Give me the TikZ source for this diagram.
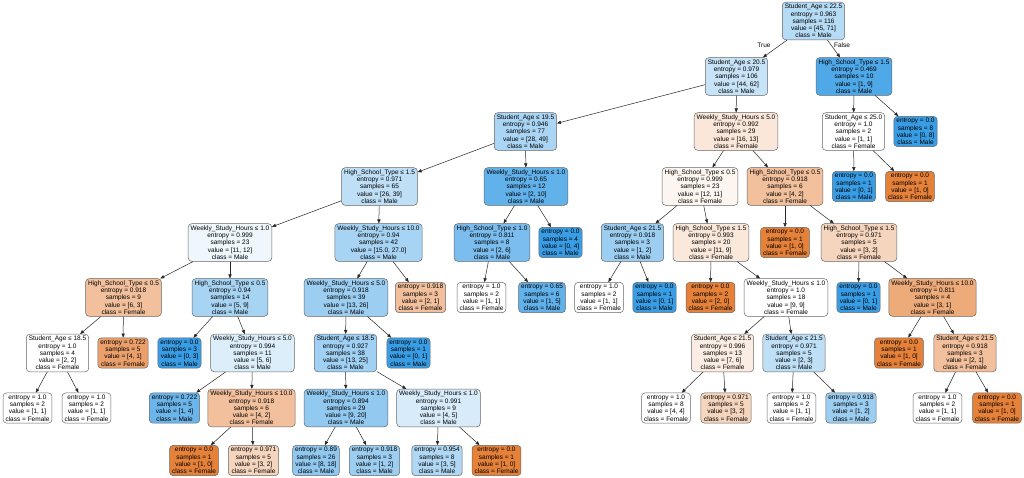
\documentclass[tikz,border=0pt]{standalone}
\usepackage{fontspec}
\newfontfamily\treefont{Liberation Sans}
\usetikzlibrary{arrows.meta}
\definecolor{cF}{HTML}{E58139}
\definecolor{cM}{HTML}{399DE5}
\newcommand\dsp[5]{#1\\entropy = #2\\samples = #3\\value = #4\\class = #5}
\newcommand\dlf[4]{entropy = #1\\samples = #2\\value = #3\\class = #4}
\tikzset{
  tn/.style={draw=black!60, line width=0.5pt, rounded corners=3.5pt, align=center,
    font=\treefont\fontsize{6.5}{7.2}\selectfont, inner xsep=2.5pt, inner ysep=2pt},
  mb/.style={tn, fill=cM!#1!white},
  fo/.style={tn, fill=cF!#1!white},
  wt/.style={tn, fill=white},
  ed/.style={-{Triangle[length=4pt,width=3.2pt]}, line width=0.5pt, black!85},
  lbl/.style={font=\treefont\fontsize{6.5}{7.2}\selectfont, inner sep=0pt}
}
\begin{document}
\begin{tikzpicture}[x=1pt,y=-1pt]
\useasboundingbox[fill=white] (0,0) rectangle (1024,478);
\node[mb=37] (n0) at (813.5,21) {\dsp{Student\_Age ≤ 22.5}{0.963}{116}{[45, 71]}{Male}};
\node[mb=29] (n1) at (736.5,76.5) {\dsp{Student\_Age ≤ 20.5}{0.979}{106}{[44, 62]}{Male}};
\node[mb=89] (n2) at (854,76.5) {\dsp{High\_School\_Type ≤ 1.5}{0.469}{10}{[1, 9]}{Male}};
\node[mb=43] (n3) at (525.5,131.5) {\dsp{Student\_Age ≤ 19.5}{0.946}{77}{[28, 49]}{Male}};
\node[fo=19] (n4) at (736,131.5) {\dsp{Weekly\_Study\_Hours ≤ 5.0}{0.992}{29}{[16, 13]}{Female}};
\node[wt] (n5) at (853.5,131.5) {\dsp{Student\_Age ≤ 25.0}{1.0}{2}{[1, 1]}{Female}};
\node[mb=100] (n6) at (915.5,131.5) {\dlf{0.0}{8}{[0, 8]}{Male}};
\node[mb=33] (n7) at (379.5,186.5) {\dsp{High\_School\_Type ≤ 1.5}{0.971}{65}{[26, 39]}{Male}};
\node[mb=80] (n8) at (526,186.5) {\dsp{Weekly\_Study\_Hours ≤ 1.0}{0.65}{12}{[2, 10]}{Male}};
\node[fo=8] (n9) at (700,186.5) {\dsp{High\_School\_Type ≤ 0.5}{0.999}{23}{[12, 11]}{Female}};
\node[fo=50] (n10) at (785,186.5) {\dsp{High\_School\_Type ≤ 0.5}{0.918}{6}{[4, 2]}{Female}};
\node[mb=100] (n11) at (854,186.5) {\dlf{0.0}{1}{[0, 1]}{Male}};
\node[fo=100] (n12) at (910,186.5) {\dlf{0.0}{1}{[1, 0]}{Female}};
\node[mb=8] (n13) at (230,242.5) {\dsp{Weekly\_Study\_Hours ≤ 1.0}{0.999}{23}{[11, 12]}{Male}};
\node[mb=44] (n14) at (378.5,242.5) {\dsp{Weekly\_Study\_Hours ≤ 10.0}{0.94}{42}{[15.0, 27.0]}{Male}};
\node[mb=67] (n15) at (492,242.5) {\dsp{High\_School\_Type ≤ 1.0}{0.811}{8}{[2, 6]}{Male}};
\node[mb=100] (n16) at (560.5,242.5) {\dlf{0.0}{4}{[0, 4]}{Male}};
\node[mb=50] (n17) at (632.5,242.5) {\dsp{Student\_Age ≤ 21.5}{0.918}{3}{[1, 2]}{Male}};
\node[fo=18] (n18) at (711,242.5) {\dsp{High\_School\_Type ≤ 1.5}{0.993}{20}{[11, 9]}{Female}};
\node[fo=100] (n19) at (785,242.5) {\dlf{0.0}{1}{[1, 0]}{Female}};
\node[fo=33] (n20) at (859,242.5) {\dsp{High\_School\_Type ≤ 1.5}{0.971}{5}{[3, 2]}{Female}};
\node[fo=50] (n21) at (123.5,297.5) {\dsp{High\_School\_Type ≤ 0.5}{0.918}{9}{[6, 3]}{Female}};
\node[mb=44] (n22) at (230,297.5) {\dsp{High\_School\_Type ≤ 0.5}{0.94}{14}{[5, 9]}{Male}};
\node[mb=50] (n23) at (346,297.5) {\dsp{Weekly\_Study\_Hours ≤ 5.0}{0.918}{39}{[13, 26]}{Male}};
\node[fo=50] (n24) at (420.5,297.5) {\dlf{0.918}{3}{[2, 1]}{Female}};
\node[wt] (n25) at (481.5,297.5) {\dlf{1.0}{2}{[1, 1]}{Female}};
\node[mb=80] (n26) at (542,297.5) {\dlf{0.65}{6}{[1, 5]}{Male}};
\node[wt] (n27) at (599,297.5) {\dlf{1.0}{2}{[1, 1]}{Female}};
\node[mb=100] (n28) at (654.5,297.5) {\dlf{0.0}{1}{[0, 1]}{Male}};
\node[fo=100] (n29) at (710.5,297.5) {\dlf{0.0}{2}{[2, 0]}{Female}};
\node[wt] (n30) at (786,297.5) {\dsp{Weekly\_Study\_Hours ≤ 1.0}{1.0}{18}{[9, 9]}{Female}};
\node[mb=100] (n31) at (858.5,297.5) {\dlf{0.0}{1}{[0, 1]}{Male}};
\node[fo=67] (n32) at (932.5,297.5) {\dsp{Weekly\_Study\_Hours ≤ 10.0}{0.811}{4}{[3, 1]}{Female}};
\node[wt] (n33) at (57.5,353) {\dsp{Student\_Age ≤ 18.5}{1.0}{4}{[2, 2]}{Female}};
\node[fo=75] (n34) at (123,353) {\dlf{0.722}{5}{[4, 1]}{Female}};
\node[mb=100] (n35) at (179.5,353) {\dlf{0.0}{3}{[0, 3]}{Male}};
\node[mb=17] (n36) at (252.5,353) {\dsp{Weekly\_Study\_Hours ≤ 5.0}{0.994}{11}{[5, 6]}{Male}};
\node[mb=48] (n37) at (345.5,353) {\dsp{Student\_Age ≤ 18.5}{0.927}{38}{[13, 25]}{Male}};
\node[mb=100] (n38) at (408.5,353) {\dlf{0.0}{1}{[0, 1]}{Male}};
\node[fo=14] (n39) at (722.5,353) {\dsp{Student\_Age ≤ 21.5}{0.996}{13}{[7, 6]}{Female}};
\node[mb=33] (n40) at (794,353) {\dsp{Student\_Age ≤ 21.5}{0.971}{5}{[2, 3]}{Male}};
\node[fo=100] (n41) at (899,353) {\dlf{0.0}{1}{[1, 0]}{Female}};
\node[fo=50] (n42) at (965,353) {\dsp{Student\_Age ≤ 21.5}{0.918}{3}{[2, 1]}{Female}};
\node[wt] (n43) at (27.5,408) {\dlf{1.0}{2}{[1, 1]}{Female}};
\node[wt] (n44) at (86.5,408) {\dlf{1.0}{2}{[1, 1]}{Female}};
\node[mb=75] (n45) at (174.5,408) {\dlf{0.722}{5}{[1, 4]}{Male}};
\node[fo=50] (n46) at (251.5,408) {\dsp{Weekly\_Study\_Hours ≤ 10.0}{0.918}{6}{[4, 2]}{Female}};
\node[mb=55] (n47) at (346,408) {\dsp{Weekly\_Study\_Hours ≤ 1.0}{0.894}{29}{[9, 20]}{Male}};
\node[mb=20] (n48) at (438.5,408) {\dsp{Weekly\_Study\_Hours ≤ 1.0}{0.991}{9}{[4, 5]}{Male}};
\node[wt] (n49) at (666,408) {\dlf{1.0}{8}{[4, 4]}{Female}};
\node[fo=33] (n50) at (726,408) {\dlf{0.971}{5}{[3, 2]}{Female}};
\node[wt] (n51) at (791.5,408) {\dlf{1.0}{2}{[1, 1]}{Female}};
\node[mb=50] (n52) at (851,408) {\dlf{0.918}{3}{[1, 2]}{Male}};
\node[wt] (n53) at (937.5,408) {\dlf{1.0}{2}{[1, 1]}{Female}};
\node[fo=100] (n54) at (997,408) {\dlf{0.0}{1}{[1, 0]}{Female}};
\node[fo=100] (n55) at (194,460.5) {\dlf{0.0}{1}{[1, 0]}{Female}};
\node[fo=33] (n56) at (253.5,460.5) {\dlf{0.971}{5}{[3, 2]}{Female}};
\node[mb=56] (n57) at (316,460.5) {\dlf{0.89}{26}{[8, 18]}{Male}};
\node[mb=50] (n58) at (374.5,460.5) {\dlf{0.918}{3}{[1, 2]}{Male}};
\node[mb=40] (n59) at (437,460.5) {\dlf{0.954}{8}{[3, 5]}{Male}};
\node[fo=100] (n60) at (496.5,460.5) {\dlf{0.0}{1}{[1, 0]}{Female}};
\foreach \p/\c in {0/1,0/2,1/3,1/4,2/5,2/6,3/7,3/8,4/9,4/10,5/11,5/12,7/13,7/14,8/15,8/16,9/17,9/18,10/19,10/20,13/21,13/22,14/23,14/24,15/25,15/26,17/27,17/28,18/29,18/30,20/31,20/32,21/33,21/34,22/35,22/36,23/37,23/38,30/39,30/40,32/41,32/42,33/43,33/44,36/45,36/46,37/47,37/48,39/49,39/50,40/51,40/52,42/53,42/54,46/55,46/56,47/57,47/58,48/59,48/60}
  \draw[ed] (n\p) -- (n\c);
\node[lbl] (tlab) at (764,45) {True};
\node[lbl] (flab) at (842,45) {False};
\end{tikzpicture}
\end{document}
